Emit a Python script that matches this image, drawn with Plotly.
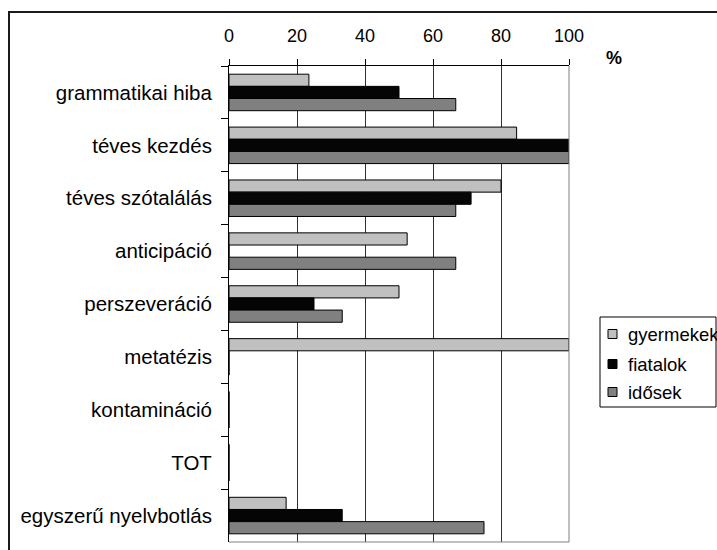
import plotly.graph_objects as go

# Error categories (top to bottom) and percentages per age group
categories = [
    "grammatikai hiba",
    "téves kezdés",
    "téves szótalálás",
    "anticipáció",
    "perszeveráció",
    "metatézis",
    "kontamináció",
    "TOT",
    "egyszerű nyelvbotlás",
]
gyermekek = [23.5, 84.6, 80.0, 52.4, 50.0, 100.0, 0, 0, 16.8]
fiatalok = [50.0, 100.0, 71.2, 0, 25.0, 0, 0, 0, 33.3]
idosek = [66.7, 100.0, 66.7, 66.7, 33.3, 0, 0, 0, 75.0]
x_ticks = [0, 20, 40, 60, 80, 100]

series = [
    ("gyermekek", gyermekek, "#C0C0C0"),
    ("fiatalok", fiatalok, "#050505"),
    ("idősek", idosek, "#808080"),
]

font = "Liberation Sans, Arial, sans-serif"

W, H = 717, 550
ML, MR, MT, MB = 229, 148, 66, 8
PW, PH = W - ML - MR, H - MT - MB


def px(x):
    return (x - ML) / PW


def py(y):
    return (H - MB - y) / PH


fig = go.Figure()
for name, vals, color in series:
    fig.add_trace(go.Bar(
        y=categories, x=vals, name=name, orientation="h",
        marker=dict(color=color, line=dict(color="#000000", width=1)),
        showlegend=False,
    ))

fig.update_layout(
    width=W, height=H,
    margin=dict(l=ML, r=MR, t=MT, b=MB),
    paper_bgcolor="white", plot_bgcolor="white",
    barmode="group", bargap=0.31, bargroupgap=0,
    font=dict(family=font, size=18, color="#000000"),
    showlegend=False,
    xaxis=dict(
        side="top", range=[0, 100], tickvals=x_ticks,
        showgrid=True, gridcolor="#303030", gridwidth=1,
        showline=True, linecolor="#000000", linewidth=1,
        ticks="outside", ticklen=6, tickcolor="#000000",
        tickfont=dict(family=font, size=18),
        ticklabelstandoff=10,
        zeroline=False, fixedrange=True, automargin=False,
    ),
    yaxis=dict(
        autorange="reversed", type="category",
        tickson="boundaries", ticks="outside", ticklen=7,
        tickcolor="#000000",
        showline=True, linecolor="#000000", linewidth=1,
        showgrid=False, tickfont=dict(family=font, size=20.5),
        ticklabelstandoff=12, fixedrange=True, automargin=False,
    ),
)

# plot area right and bottom frame
fig.add_shape(type="line", xref="paper", yref="paper", x0=1, x1=1, y0=0, y1=1,
              line=dict(color="#808080", width=1))
fig.add_shape(type="line", xref="paper", yref="paper", x0=0, x1=1, y0=0, y1=0,
              line=dict(color="#808080", width=1))

# outer chart frame
fig.add_shape(type="rect", xref="paper", yref="paper",
              x0=px(9), x1=px(740), y0=py(570), y1=py(12),
              line=dict(color="#1a1a1a", width=2), layer="below")

# axis unit label
fig.add_annotation(text="<b>%</b>", xref="paper", yref="paper",
                   x=px(614), y=py(58), showarrow=False,
                   font=dict(family=font, size=18), xanchor="center", yanchor="middle")

# legend box with swatches
fig.add_shape(type="rect", xref="paper", yref="paper",
              x0=px(600), x1=px(716), y0=py(407), y1=py(317),
              line=dict(color="#000000", width=1), fillcolor="white", layer="below")
row_y = [334, 364, 392]
for (name, _, color), yc in zip(series, row_y):
    fig.add_shape(type="rect", xref="paper", yref="paper",
                  x0=px(608), x1=px(617), y0=py(yc + 4.5), y1=py(yc - 4.5),
                  line=dict(color="#000000", width=1), fillcolor=color)
    fig.add_annotation(text=name, xref="paper", yref="paper",
                       x=px(626), y=py(yc), showarrow=False,
                       xanchor="left", yanchor="middle",
                       font=dict(family=font, size=18.5))

fig.write_html("out.html")
